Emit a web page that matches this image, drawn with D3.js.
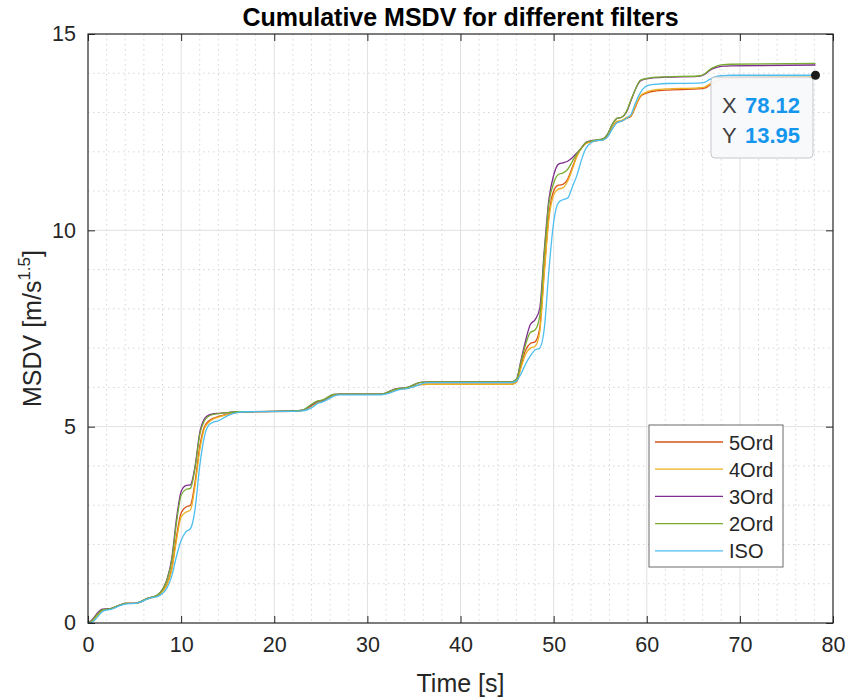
<!DOCTYPE html>
<html>
<head>
<meta charset="utf-8">
<script src="https://cdn.jsdelivr.net/npm/d3@7"></script>
<style>
  body { margin: 0; background: #fff; }
  text { font-family: "Liberation Sans", Arial, Helvetica, sans-serif; }
</style>
</head>
<body>
<svg id="chart" width="847" height="700"></svg>
<script>
var time = [0,0.5,1,1.5,2,2.5,3,3.5,4,5,
  5.5,6.3,7,7.5,8,8.5,9,9.5,10,10.5,
  11,11.5,12,12.5,13,13.5,14,15,16,17,
  22,23,24,24.6,25.2,25.8,26.4,27,31.5,32.2,
  33,33.6,34.3,35,35.7,36.5,45.5,46,46.5,47,
  47.5,48,48.5,49,49.5,50,50.5,51,51.5,52,
  52.5,53,53.5,54.5,55.3,55.8,56.3,56.8,57.3,57.8,
  58.3,58.8,59.3,59.8,60.3,61,62,65.5,66.2,66.8,
  67.5,68.2,69,78.12];

var ord5 = [0,0.07,0.2,0.32,0.35,0.36,0.41,0.46,0.5,0.5,
  0.52,0.61,0.66,0.7,0.82,1.0,1.4,2.2,2.8,2.95,
  3.0,3.6,4.5,5.0,5.15,5.22,5.26,5.32,5.37,5.38,
  5.39,5.41,5.53,5.62,5.66,5.74,5.8,5.82,5.82,5.86,
  5.93,5.96,5.98,6.03,6.07,6.08,6.08,6.13,6.55,6.95,
  7.12,7.16,7.5,9.0,10.4,11.0,11.15,11.17,11.3,11.6,
  11.9,12.1,12.22,12.28,12.3,12.4,12.6,12.75,12.78,12.85,
  12.9,13.15,13.4,13.48,13.52,13.55,13.57,13.6,13.62,13.7,
  13.8,13.85,13.86,13.88];

var ord4 = [0,0.06,0.19,0.31,0.34,0.36,0.41,0.46,0.5,0.5,
  0.52,0.61,0.66,0.7,0.8,0.98,1.35,2.1,2.7,2.82,
  2.88,3.5,4.4,4.95,5.12,5.2,5.24,5.31,5.36,5.38,
  5.39,5.41,5.52,5.62,5.66,5.74,5.8,5.82,5.82,5.86,
  5.93,5.96,5.98,6.03,6.07,6.08,6.08,6.13,6.5,6.85,
  7.0,7.04,7.4,8.9,10.3,10.9,11.05,11.08,11.25,11.55,
  11.88,12.1,12.22,12.28,12.3,12.4,12.62,12.78,12.8,12.87,
  12.92,13.18,13.42,13.5,13.55,13.58,13.6,13.63,13.65,13.73,
  13.83,13.88,13.89,13.9];

var ord3 = [0,0.1,0.25,0.35,0.36,0.37,0.42,0.46,0.5,0.5,
  0.53,0.62,0.67,0.72,0.86,1.12,1.65,2.65,3.35,3.5,
  3.52,4.0,4.85,5.2,5.3,5.33,5.34,5.36,5.38,5.38,
  5.4,5.42,5.55,5.64,5.67,5.75,5.82,5.83,5.83,5.88,
  5.96,5.98,6.0,6.07,6.13,6.14,6.14,6.2,6.7,7.2,
  7.6,7.72,8.0,9.5,10.8,11.4,11.68,11.72,11.76,11.85,
  11.97,12.1,12.25,12.3,12.33,12.45,12.7,12.85,12.88,13.0,
  13.3,13.6,13.8,13.85,13.87,13.89,13.9,13.92,13.97,14.08,
  14.15,14.18,14.19,14.21];

var ord2 = [0,0.08,0.22,0.33,0.35,0.37,0.42,0.46,0.5,0.5,
  0.53,0.62,0.67,0.72,0.85,1.1,1.6,2.55,3.25,3.4,
  3.43,3.95,4.8,5.15,5.27,5.31,5.33,5.36,5.38,5.38,
  5.4,5.42,5.57,5.65,5.68,5.76,5.82,5.83,5.83,5.88,
  5.95,5.98,6.0,6.07,6.13,6.14,6.14,6.2,6.65,7.1,
  7.4,7.46,7.8,9.4,10.7,11.2,11.42,11.46,11.55,11.75,
  11.95,12.1,12.24,12.3,12.33,12.45,12.7,12.85,12.88,13.02,
  13.32,13.6,13.82,13.86,13.88,13.9,13.91,13.93,13.98,14.1,
  14.18,14.22,14.23,14.25];

var iso = [0,0.03,0.15,0.28,0.33,0.35,0.4,0.45,0.48,0.5,
  0.52,0.6,0.65,0.68,0.75,0.9,1.2,1.7,2.1,2.32,
  2.4,2.9,4.0,4.75,5.05,5.12,5.15,5.28,5.36,5.38,
  5.39,5.4,5.48,5.58,5.63,5.7,5.78,5.81,5.81,5.84,
  5.91,5.95,5.97,6.02,6.08,6.12,6.12,6.16,6.35,6.6,
  6.8,6.95,7.0,7.5,9.0,10.2,10.7,10.78,10.82,11.1,
  11.4,11.8,12.1,12.28,12.3,12.38,12.58,12.74,12.78,12.85,
  12.95,13.25,13.5,13.65,13.7,13.72,13.74,13.75,13.77,13.85,
  13.92,13.94,13.95,13.95];

var names = ["5Ord","4Ord","3Ord","2Ord","ISO"];
var colors = ["#D95319","#EDB120","#7E2F8E","#77AC30","#4DBEEE"];
var seriesValues = [ord5, ord4, ord3, ord2, iso];
var xTicks = [0,10,20,30,40,50,60,70,80];
var yTicks = [0,5,10,15];
var tipPoint = [78.12, 13.95];

var svg = d3.select("#chart");
var pLeft = 88, pRight = 833, pTop = 34, pBottom = 623;
var ink = "#262626";

var x = d3.scaleLinear().domain([0,80]).range([pLeft,pRight]);
var y = d3.scaleLinear().domain([0,15]).range([pBottom,pTop]);

// minor grid (dotted)
var grid = svg.append("g");
grid.selectAll(".mx").data(d3.range(0,81,2).filter(function(d){return d%10!=0;}))
  .enter().append("line")
  .attr("x1",function(d){return x(d);}).attr("x2",function(d){return x(d);})
  .attr("y1",pTop).attr("y2",pBottom)
  .style("stroke","#d6d6d6").style("stroke-dasharray","1.5,3.5").style("stroke-width",1);
grid.selectAll(".my").data(d3.range(0,16,1).filter(function(d){return d%5!=0;}))
  .enter().append("line")
  .attr("y1",function(d){return y(d);}).attr("y2",function(d){return y(d);})
  .attr("x1",pLeft).attr("x2",pRight)
  .style("stroke","#d6d6d6").style("stroke-dasharray","1.5,3.5").style("stroke-width",1);
// major grid
grid.selectAll(".gx").data(xTicks.slice(1,-1)).enter().append("line")
  .attr("x1",function(d){return x(d);}).attr("x2",function(d){return x(d);})
  .attr("y1",pTop).attr("y2",pBottom)
  .style("stroke","#e0e0e0").style("stroke-width",1);
grid.selectAll(".gy").data(yTicks.slice(1,-1)).enter().append("line")
  .attr("y1",function(d){return y(d);}).attr("y2",function(d){return y(d);})
  .attr("x1",pLeft).attr("x2",pRight)
  .style("stroke","#e0e0e0").style("stroke-width",1);

// lines
var line = d3.line()
  .x(function(d){return x(d[0]);})
  .y(function(d){return y(d[1]);})
  .curve(d3.curveMonotoneX);

seriesValues.forEach(function(vals,i){
  svg.append("path")
    .datum(time.map(function(t,j){return [t, vals[j]];}))
    .attr("d",line)
    .style("fill","none")
    .style("stroke",colors[i])
    .style("stroke-width",1.3);
});

// axes, ticks inward
var xAxis = d3.axisBottom(x).tickValues(xTicks).tickSizeInner(-7).tickSizeOuter(0).tickPadding(14);
var yAxis = d3.axisLeft(y).tickValues(yTicks).tickSizeInner(-7).tickSizeOuter(0).tickPadding(12);
var gx = svg.append("g").attr("transform","translate(0,"+pBottom+")").call(xAxis);
var gy = svg.append("g").attr("transform","translate("+pLeft+",0)").call(yAxis);
var gxTop = svg.append("g").attr("transform","translate(0,"+pTop+")")
  .call(d3.axisTop(x).tickValues(xTicks).tickSizeInner(-7).tickSizeOuter(0).tickFormat(""));
var gyRight = svg.append("g").attr("transform","translate("+pRight+",0)")
  .call(d3.axisRight(y).tickValues(yTicks).tickSizeInner(-7).tickSizeOuter(0).tickFormat(""));
[gx,gy,gxTop,gyRight].forEach(function(g){
  g.select(".domain").remove();
  g.selectAll("line").style("stroke",ink);
  g.selectAll("text").style("font-size","21.5px").style("fill",ink)
    .style("font-family","'Liberation Sans', Arial, sans-serif");
});

svg.append("rect")
  .attr("x",pLeft).attr("y",pTop).attr("width",pRight-pLeft).attr("height",pBottom-pTop)
  .style("fill","none").style("stroke",ink).style("stroke-width",1.2);

// titles
svg.append("text")
  .text("Cumulative MSDV for different filters")
  .attr("x",(pLeft+pRight)/2).attr("y",26)
  .attr("text-anchor","middle")
  .style("font-size","25px").style("font-weight","bold").style("fill","#000");

svg.append("text")
  .text("Time [s]")
  .attr("x",(pLeft+pRight)/2).attr("y",692)
  .attr("text-anchor","middle")
  .style("font-size","25px").style("fill",ink);

var yl = svg.append("text")
  .attr("transform","translate(41,"+((pTop+pBottom)/2)+") rotate(-90)")
  .attr("text-anchor","middle")
  .style("font-size","25px").style("fill",ink);
yl.append("tspan").text("MSDV [m/s");
yl.append("tspan").text("1.5").attr("dy",-11).style("font-size","17px");
yl.append("tspan").text("]").attr("dy",11);

// legend
var leg = svg.append("g").attr("transform","translate(649,425)");
leg.append("rect").attr("width",134).attr("height",142)
  .style("fill","#fff").style("stroke","#6b6b6b").style("stroke-width",1);
names.forEach(function(n,i){
  var ly = 17 + i*27.2;
  leg.append("line").attr("x1",6).attr("x2",74).attr("y1",ly).attr("y2",ly)
    .style("stroke",colors[i]).style("stroke-width",1.3);
  leg.append("text").text(n).attr("x",80).attr("y",ly+7.5)
    .style("font-size","20px").style("fill",ink);
});

// data tip
var tip = svg.append("g");
tip.append("rect")
  .attr("x",711).attr("y",77).attr("width",102).attr("height",81).attr("rx",4)
  .style("fill","#f8f9fb").style("fill-opacity",0.96)
  .style("stroke","#c5c7cc").style("stroke-width",1);
tip.append("circle").attr("cx",x(tipPoint[0])).attr("cy",y(tipPoint[1])).attr("r",4.5)
  .style("fill","#1a1a1a");
var rows = [["X",tipPoint[0].toFixed(2)],["Y",tipPoint[1].toFixed(2)]];
rows.forEach(function(r,i){
  var by = 113 + i*29.5;
  tip.append("text").text(r[0]).attr("x",722).attr("y",by)
    .style("font-size","22px").style("fill","#404040");
  tip.append("text").text(r[1]).attr("x",745).attr("y",by)
    .style("font-size","22px").style("fill","#1596ee").style("font-weight","bold");
});
</script>
</body>
</html>
